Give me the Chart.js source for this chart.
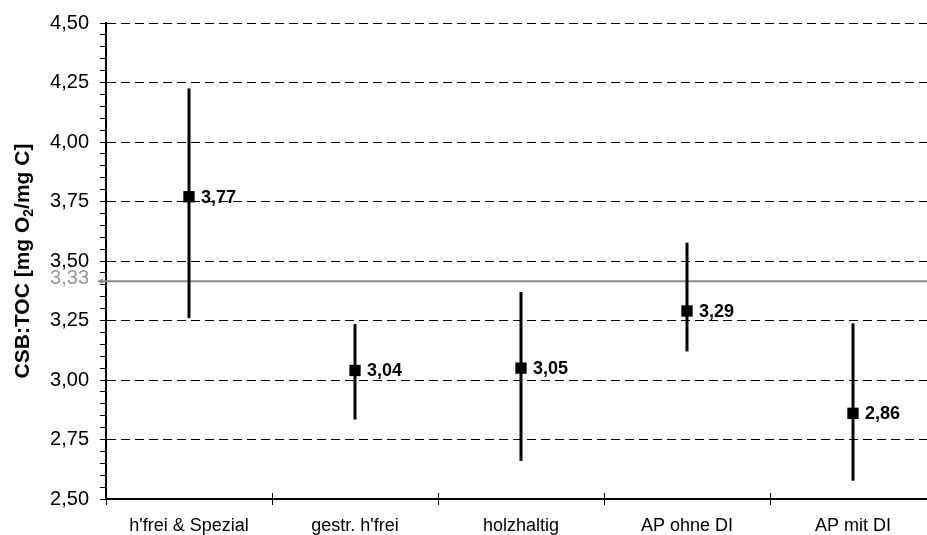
<!DOCTYPE html>
<html>
<head>
<meta charset="utf-8">
<script src="https://cdn.jsdelivr.net/npm/chart.js@4/dist/chart.umd.min.js"></script>
<style>
html,body{margin:0;padding:0;overflow:hidden;background:#fff;}
#wrap{width:944px;height:535px;}
</style>
</head>
<body>
<div id="wrap"><canvas id="c" width="944" height="535"></canvas></div>
<script>
const categories = ["h'frei & Spezial", "gestr. h'frei", "holzhaltig", "AP ohne DI", "AP mit DI"];
const means = [3.77, 3.04, 3.05, 3.29, 2.86];
const highs = [4.225, 3.235, 3.37, 3.577, 3.238];
const lows = [3.26, 2.834, 2.66, 3.12, 2.577];
const meanLabels = ["3,77", "3,04", "3,05", "3,29", "2,86"];
const refValue = 3.415;
const refLabel = "3,33";
const yMin = 2.5, yMax = 4.5;
const yTitleParts = ["CSB:TOC [mg O", "2", "/mg C]"];

const FONT = "'Liberation Sans', Arial, sans-serif";

const overlay = {
  id: 'overlay',
  beforeDatasetsDraw(chart) {
    const ctx = chart.ctx, x = chart.scales.x, y = chart.scales.y, a = chart.chartArea;
    const ry = y.getPixelForValue(refValue);
    ctx.save();
    ctx.strokeStyle = '#8c8c8c';
    ctx.lineWidth = 2;
    ctx.beginPath();
    ctx.moveTo(a.left - 6, ry);
    ctx.lineTo(a.right, ry);
    ctx.stroke();
    ctx.fillStyle = '#8c8c8c';
    ctx.beginPath();
    ctx.moveTo(a.left - 9, ry);
    ctx.lineTo(a.left - 3, ry - 3);
    ctx.lineTo(a.left - 3, ry + 3);
    ctx.closePath();
    ctx.fill();
    ctx.font = '20px ' + FONT;
    ctx.textAlign = 'right';
    ctx.textBaseline = 'middle';
    ctx.fillStyle = '#9a9a9a';
    ctx.fillText(refLabel, 89, ry - 3);
    ctx.strokeStyle = '#000';
    ctx.lineWidth = 3;
    for (let i = 0; i < categories.length; i++) {
      const px = x.getPixelForValue(i);
      ctx.beginPath();
      ctx.moveTo(px, y.getPixelForValue(highs[i]));
      ctx.lineTo(px, y.getPixelForValue(lows[i]));
      ctx.stroke();
    }
    ctx.lineWidth = 1;
    for (let i = 1; i < categories.length; i++) {
      const bx = (x.getPixelForValue(i - 1) + x.getPixelForValue(i)) / 2;
      ctx.beginPath();
      ctx.moveTo(Math.round(bx) + 0.5, a.bottom - 6);
      ctx.lineTo(Math.round(bx) + 0.5, a.bottom);
      ctx.stroke();
    }
    ctx.restore();
  },
  afterDatasetsDraw(chart) {
    const ctx = chart.ctx, x = chart.scales.x, y = chart.scales.y;
    ctx.save();
    ctx.font = 'bold 18px ' + FONT;
    ctx.fillStyle = '#000';
    ctx.textAlign = 'left';
    ctx.textBaseline = 'middle';
    for (let i = 0; i < categories.length; i++) {
      ctx.fillText(meanLabels[i], x.getPixelForValue(i) + 12, y.getPixelForValue(means[i]) + 1);
    }
    const a = chart.chartArea;
    ctx.translate(23, (a.top + a.bottom) / 2);
    ctx.rotate(-Math.PI / 2);
    ctx.font = 'bold 21px ' + FONT;
    const w1 = ctx.measureText(yTitleParts[0]).width;
    ctx.font = 'bold 14px ' + FONT;
    const w2 = ctx.measureText(yTitleParts[1]).width;
    ctx.font = 'bold 21px ' + FONT;
    const w3 = ctx.measureText(yTitleParts[2]).width;
    let sx = -(w1 + w2 + w3) / 2;
    ctx.textAlign = 'left';
    ctx.textBaseline = 'middle';
    ctx.fillText(yTitleParts[0], sx, 0);
    sx += w1;
    ctx.font = 'bold 14px ' + FONT;
    ctx.fillText(yTitleParts[1], sx, 6);
    sx += w2;
    ctx.font = 'bold 21px ' + FONT;
    ctx.fillText(yTitleParts[2], sx, 0);
    ctx.restore();
  }
};

new Chart(document.getElementById('c'), {
  type: 'line',
  data: {
    labels: categories,
    datasets: [{
      data: means,
      showLine: false,
      pointStyle: 'rect',
      pointRadius: 8,
      pointHoverRadius: 8,
      pointBackgroundColor: '#000',
      pointBorderWidth: 0,
      borderColor: '#000'
    }]
  },
  options: {
    responsive: false,
    animation: false,
    events: [],
    layout: { padding: { top: 21, right: 1, left: 0, bottom: 0 } },
    plugins: { legend: { display: false }, tooltip: { enabled: false } },
    scales: {
      x: {
        type: 'category',
        offset: true,
        afterFit(s) { s.height = 36; },
        grid: { display: true, offset: true, drawOnChartArea: false, drawTicks: true, tickLength: 6, color: '#000', tickColor: '#000', lineWidth: 1 },
        border: { display: true, color: '#000', width: 2 },
        ticks: { color: '#000', font: { family: FONT, size: 18 }, padding: 10, maxRotation: 0, autoSkip: false }
      },
      y: {
        min: yMin,
        max: yMax,
        afterFit(s) { s.width = 106; },
        afterBuildTicks(s) {
          const t = [];
          for (let k = 0; k <= 40; k++) t.push({ value: Math.round((yMin + k * 0.05) * 100) / 100 });
          s.ticks = t;
        },
        grid: {
          display: true,
          drawTicks: true,
          tickLength: 6,
          lineWidth: 1,
          color: (c) => {
            const v = Math.round(c.tick.value * 100);
            if (v === 250) return 'rgba(0,0,0,0)';
            return v % 25 === 0 ? '#000' : 'rgba(0,0,0,0)';
          },
          tickColor: '#000'
        },
        border: { display: true, color: '#000', width: 2, dash: [9, 5] },
        ticks: {
          color: '#000',
          font: { family: FONT, size: 20 },
          padding: 11,
          autoSkip: false,
          callback: (v) => (Math.round(v * 100) % 25 === 0 ? v.toFixed(2).replace('.', ',') : '')
        }
      }
    }
  },
  plugins: [overlay]
});
</script>
</body>
</html>
